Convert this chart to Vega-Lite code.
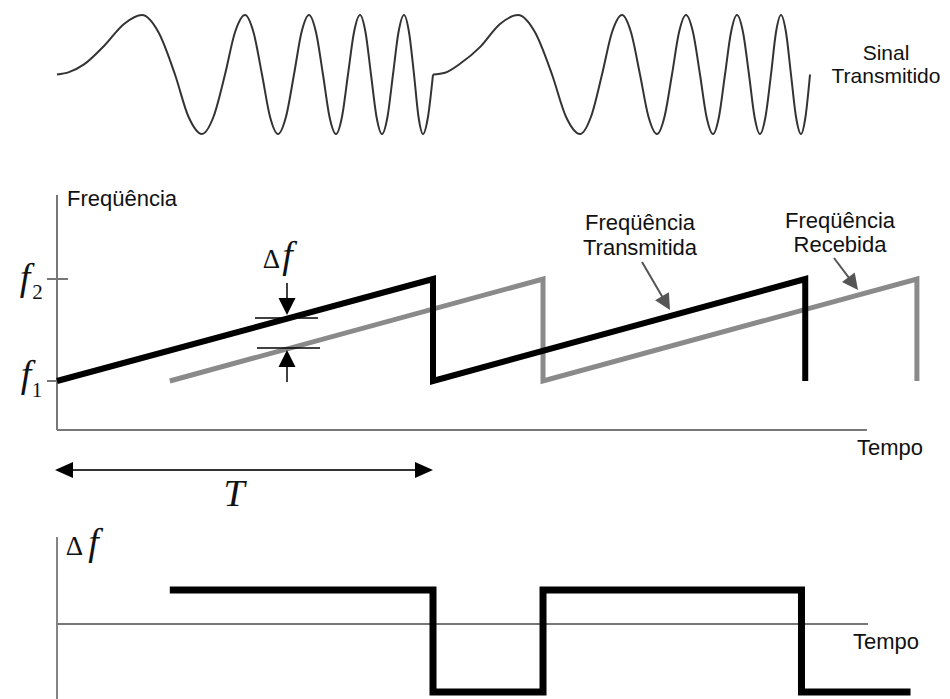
{
  "$schema": "https://vega.github.io/schema/vega-lite/v6.json",
  "background": "white",
  "padding": 0,
  "spacing": 0,
  "config": {"view": {"stroke": null}, "concat": {"spacing": 0}},
  "resolve": {"scale": {"x": "independent", "y": "independent"}},
  "datasets": {
    "chirp": [
      {"seg": 1, "t": 0, "amp": 0},
      {"seg": 1, "t": 0.0319, "amp": 0.04},
      {"seg": 1, "t": 0.0718, "amp": 0.17},
      {"seg": 1, "t": 0.125, "amp": 0.48},
      {"seg": 1, "t": 0.1782, "amp": 0.85},
      {"seg": 1, "t": 0.2261, "amp": 1},
      {"seg": 1, "t": 0.2699, "amp": 0.71},
      {"seg": 1, "t": 0.3138, "amp": 0},
      {"seg": 1, "t": 0.3497, "amp": -0.71},
      {"seg": 1, "t": 0.3856, "amp": -1},
      {"seg": 1, "t": 0.4162, "amp": -0.71},
      {"seg": 1, "t": 0.4468, "amp": 0},
      {"seg": 1, "t": 0.4734, "amp": 0.71},
      {"seg": 1, "t": 0.5, "amp": 1},
      {"seg": 1, "t": 0.5226, "amp": 0.71},
      {"seg": 1, "t": 0.5452, "amp": 0},
      {"seg": 1, "t": 0.5665, "amp": -0.71},
      {"seg": 1, "t": 0.5878, "amp": -1},
      {"seg": 1, "t": 0.609, "amp": -0.71},
      {"seg": 1, "t": 0.6303, "amp": 0},
      {"seg": 1, "t": 0.6503, "amp": 0.71},
      {"seg": 1, "t": 0.6702, "amp": 1},
      {"seg": 1, "t": 0.6888, "amp": 0.71},
      {"seg": 1, "t": 0.7074, "amp": 0},
      {"seg": 1, "t": 0.7247, "amp": -0.71},
      {"seg": 1, "t": 0.742, "amp": -1},
      {"seg": 1, "t": 0.758, "amp": -0.71},
      {"seg": 1, "t": 0.7739, "amp": 0},
      {"seg": 1, "t": 0.7899, "amp": 0.71},
      {"seg": 1, "t": 0.8059, "amp": 1},
      {"seg": 1, "t": 0.8205, "amp": 0.71},
      {"seg": 1, "t": 0.8351, "amp": 0},
      {"seg": 1, "t": 0.8497, "amp": -0.71},
      {"seg": 1, "t": 0.8644, "amp": -1},
      {"seg": 1, "t": 0.879, "amp": -0.71},
      {"seg": 1, "t": 0.8936, "amp": 0},
      {"seg": 1, "t": 0.9082, "amp": 0.71},
      {"seg": 1, "t": 0.9229, "amp": 1},
      {"seg": 1, "t": 0.9362, "amp": 0.71},
      {"seg": 1, "t": 0.9495, "amp": 0},
      {"seg": 1, "t": 0.9614, "amp": -0.71},
      {"seg": 1, "t": 0.9734, "amp": -1},
      {"seg": 1, "t": 0.9867, "amp": -0.71},
      {"seg": 1, "t": 1.0, "amp": 0},
      {"seg": 2, "t": 1.0, "amp": 0},
      {"seg": 2, "t": 1.0319, "amp": 0.03},
      {"seg": 2, "t": 1.0718, "amp": 0.18},
      {"seg": 2, "t": 1.125, "amp": 0.46},
      {"seg": 2, "t": 1.1782, "amp": 0.85},
      {"seg": 2, "t": 1.2261, "amp": 1},
      {"seg": 2, "t": 1.2713, "amp": 0.71},
      {"seg": 2, "t": 1.3165, "amp": 0},
      {"seg": 2, "t": 1.3537, "amp": -0.71},
      {"seg": 2, "t": 1.391, "amp": -1},
      {"seg": 2, "t": 1.4202, "amp": -0.71},
      {"seg": 2, "t": 1.4495, "amp": 0},
      {"seg": 2, "t": 1.4761, "amp": 0.71},
      {"seg": 2, "t": 1.5027, "amp": 1},
      {"seg": 2, "t": 1.5266, "amp": 0.71},
      {"seg": 2, "t": 1.5505, "amp": 0},
      {"seg": 2, "t": 1.5731, "amp": -0.71},
      {"seg": 2, "t": 1.5957, "amp": -1},
      {"seg": 2, "t": 1.6157, "amp": -0.71},
      {"seg": 2, "t": 1.6356, "amp": 0},
      {"seg": 2, "t": 1.6543, "amp": 0.71},
      {"seg": 2, "t": 1.6729, "amp": 1},
      {"seg": 2, "t": 1.6915, "amp": 0.71},
      {"seg": 2, "t": 1.7101, "amp": 0},
      {"seg": 2, "t": 1.7274, "amp": -0.71},
      {"seg": 2, "t": 1.7447, "amp": -1},
      {"seg": 2, "t": 1.7606, "amp": -0.71},
      {"seg": 2, "t": 1.7766, "amp": 0},
      {"seg": 2, "t": 1.7926, "amp": 0.71},
      {"seg": 2, "t": 1.8085, "amp": 1},
      {"seg": 2, "t": 1.8245, "amp": 0.71},
      {"seg": 2, "t": 1.8404, "amp": 0},
      {"seg": 2, "t": 1.8551, "amp": -0.71},
      {"seg": 2, "t": 1.8697, "amp": -1},
      {"seg": 2, "t": 1.8843, "amp": -0.71},
      {"seg": 2, "t": 1.8989, "amp": 0},
      {"seg": 2, "t": 1.9122, "amp": 0.71},
      {"seg": 2, "t": 1.9255, "amp": 1},
      {"seg": 2, "t": 1.9388, "amp": 0.71},
      {"seg": 2, "t": 1.9521, "amp": 0},
      {"seg": 2, "t": 1.9654, "amp": -0.71},
      {"seg": 2, "t": 1.9787, "amp": -1},
      {"seg": 2, "t": 1.9907, "amp": -0.71},
      {"seg": 2, "t": 2.0027, "amp": 0}
    ],
    "tx": [
      {"i": 0, "t": 0, "f": 1},
      {"i": 1, "t": 1, "f": 2},
      {"i": 2, "t": 1, "f": 1},
      {"i": 3, "t": 1.99, "f": 2},
      {"i": 4, "t": 1.99, "f": 1}
    ],
    "rx": [
      {"i": 0, "t": 0.3, "f": 1},
      {"i": 1, "t": 1.2926, "f": 2},
      {"i": 2, "t": 1.2926, "f": 1},
      {"i": 3, "t": 2.287, "f": 2},
      {"i": 4, "t": 2.287, "f": 1}
    ],
    "beat": [
      {"i": 0, "t": 0.3, "df": 1},
      {"i": 1, "t": 1.0, "df": 1},
      {"i": 2, "t": 1.0, "df": -2},
      {"i": 3, "t": 1.2926, "df": -2},
      {"i": 4, "t": 1.2926, "df": 1},
      {"i": 5, "t": 1.98, "df": 1},
      {"i": 6, "t": 1.98, "df": -2},
      {"i": 7, "t": 2.27, "df": -2}
    ]
  },
  "vconcat": [
    {
      "width": 950,
      "height": 150,
      "encoding": {
        "x": {"field": "t", "type": "quantitative", "scale": {"domain": [-0.1516, 2.375], "nice": false, "zero": false}, "axis": null},
        "y": {"field": "amp", "type": "quantitative", "scale": {"domain": [-1.2689, 1.2521], "nice": false, "zero": false}, "axis": null}
      },
      "layer": [
        {
          "data": {"name": "chirp"},
          "mark": {"type": "line", "interpolate": "monotone", "color": "#333333", "strokeWidth": 2},
          "encoding": {"detail": {"field": "seg"}}
        },
        {
          "data": {"values": [
            {"t": 2.2048, "amp": 0.2437, "s": "Sinal"},
            {"t": 2.2048, "amp": -0.1429, "s": "Transmitido"}
          ]},
          "mark": {"type": "text", "font": "Liberation Sans", "fontSize": 21, "align": "center", "baseline": "alphabetic", "color": "#111111"},
          "encoding": {"text": {"field": "s"}}
        }
      ]
    },
    {
      "width": 950,
      "height": 365,
      "encoding": {
        "x": {"field": "t", "type": "quantitative", "scale": {"domain": [-0.1516, 2.375], "nice": false, "zero": false}, "axis": null},
        "y": {"field": "f", "type": "quantitative", "scale": {"domain": [-0.3137, 3.2647], "nice": false, "zero": false}, "axis": null}
      },
      "layer": [
        {
          "data": {"values": [
            {"t": 0, "t_end": 0, "f": 0.5196, "f_end": 2.8235},
            {"t": 0, "t_end": 2.154, "f": 0.5196, "f_end": 0.5196},
            {"t": -0.0266, "t_end": 0.0293, "f": 2, "f_end": 2},
            {"t": -0.0266, "t_end": 0, "f": 1, "f_end": 1}
          ]},
          "mark": {"type": "rule", "color": "#777777", "strokeWidth": 2},
          "encoding": {"x2": {"field": "t_end"}, "y2": {"field": "f_end"}}
        },
        {
          "data": {"name": "rx"},
          "mark": {"type": "line", "color": "#8a8a8a", "strokeWidth": 5, "strokeJoin": "miter"},
          "encoding": {"order": {"field": "i"}}
        },
        {
          "data": {"name": "tx"},
          "mark": {"type": "line", "color": "#000000", "strokeWidth": 6, "strokeJoin": "miter"},
          "encoding": {"order": {"field": "i"}}
        },
        {
          "data": {"values": [
            {"t": 0.5266, "t_end": 0.6941, "f": 1.6176, "f_end": 1.6176},
            {"t": 0.5319, "t_end": 0.6995, "f": 1.3235, "f_end": 1.3235},
            {"t": 0.6117, "t_end": 0.6117, "f": 1.9608, "f_end": 1.7},
            {"t": 0.6117, "t_end": 0.6117, "f": 0.99, "f_end": 1.25}
          ]},
          "mark": {"type": "rule", "color": "#000000", "strokeWidth": 1.5},
          "encoding": {"x2": {"field": "t_end"}, "y2": {"field": "f_end"}}
        },
        {
          "data": {"values": [{"t": 0.6117, "f": 1.647}]},
          "mark": {"type": "point", "shape": "M0,0L-0.5,-1L0.5,-1Z", "size": 1156, "filled": true, "opacity": 1, "color": "#000000"}
        },
        {
          "data": {"values": [{"t": 0.6117, "f": 1.304}]},
          "mark": {"type": "point", "shape": "M0,0L-0.5,1L0.5,1Z", "size": 1156, "filled": true, "opacity": 1, "color": "#000000"}
        },
        {
          "data": {"values": [
            {"t": 1.5559, "t_end": 1.625, "f": 2.1667, "f_end": 1.73},
            {"t": 2.0665, "t_end": 2.125, "f": 2.2059, "f_end": 1.92}
          ]},
          "mark": {"type": "rule", "color": "#555555", "strokeWidth": 2},
          "encoding": {"x2": {"field": "t_end"}, "y2": {"field": "f_end"}}
        },
        {
          "data": {"values": [{"t": 1.6303, "f": 1.696}]},
          "mark": {"type": "point", "shape": "M0,0L-0.5,-1L0.5,-1Z", "size": 1024, "angle": 330, "filled": true, "opacity": 1, "color": "#555555"}
        },
        {
          "data": {"values": [{"t": 2.1303, "f": 1.892}]},
          "mark": {"type": "point", "shape": "M0,0L-0.5,-1L0.5,-1Z", "size": 1024, "angle": 323, "filled": true, "opacity": 1, "color": "#555555"}
        },
        {
          "data": {"values": [{"t": 0.02, "t_end": 0.98, "f": 0.1275, "f_end": 0.1275}]},
          "mark": {"type": "rule", "color": "#333333", "strokeWidth": 2},
          "encoding": {"x2": {"field": "t_end"}, "y2": {"field": "f_end"}}
        },
        {
          "data": {"values": [{"t": -0.0053, "f": 0.1275}]},
          "mark": {"type": "point", "shape": "M0,0L1,-0.45L1,0.45Z", "size": 1296, "filled": true, "opacity": 1, "color": "#000000"}
        },
        {
          "data": {"values": [{"t": 1.0, "f": 0.1275}]},
          "mark": {"type": "point", "shape": "M0,0L-1,-0.45L-1,0.45Z", "size": 1296, "filled": true, "opacity": 1, "color": "#000000"}
        },
        {
          "data": {"values": [
            {"t": 0.0266, "f": 2.7157, "s": "Freqüência"},
            {"t": 2.1277, "f": 0.2745, "s": "Tempo"}
          ]},
          "mark": {"type": "text", "font": "Liberation Sans", "fontSize": 22, "align": "left", "baseline": "alphabetic", "color": "#111111"},
          "encoding": {"text": {"field": "s"}}
        },
        {
          "data": {"values": [
            {"t": 1.5505, "f": 2.4804, "s": "Freqüência"},
            {"t": 1.5505, "f": 2.2353, "s": "Transmitida"},
            {"t": 2.0824, "f": 2.5, "s": "Freqüência"},
            {"t": 2.0824, "f": 2.2647, "s": "Recebida"}
          ]},
          "mark": {"type": "text", "font": "Liberation Sans", "fontSize": 22, "align": "center", "baseline": "alphabetic", "color": "#111111"},
          "encoding": {"text": {"field": "s"}}
        },
        {
          "data": {"values": [
            {"t": -0.0851, "f": 1.892, "s": "f"},
            {"t": -0.0824, "f": 0.941, "s": "f"},
            {"t": 0.613, "f": 2.108, "s": "f"},
            {"t": 0.4707, "f": -0.2255, "s": "T"}
          ]},
          "mark": {"type": "text", "font": "Liberation Serif", "fontStyle": "italic", "fontSize": 38, "align": "center", "baseline": "alphabetic", "color": "#111111"},
          "encoding": {"text": {"field": "s"}}
        },
        {
          "data": {"values": [{"t": 0.5705, "f": 2.108, "s": "Δ"}]},
          "mark": {"type": "text", "font": "Liberation Serif", "fontSize": 27, "align": "center", "baseline": "alphabetic", "color": "#111111"},
          "encoding": {"text": {"field": "s"}}
        },
        {
          "data": {"values": [
            {"t": -0.0519, "f": 1.804, "s": "2"},
            {"t": -0.0532, "f": 0.843, "s": "1"}
          ]},
          "mark": {"type": "text", "font": "Liberation Serif", "fontSize": 21, "align": "center", "baseline": "alphabetic", "color": "#111111"},
          "encoding": {"text": {"field": "s"}}
        }
      ]
    },
    {
      "width": 950,
      "height": 184,
      "encoding": {
        "x": {"field": "t", "type": "quantitative", "scale": {"domain": [-0.1516, 2.375], "nice": false, "zero": false}, "axis": null},
        "y": {"field": "df", "type": "quantitative", "scale": {"domain": [-2.2059, 3.2059], "nice": false, "zero": false}, "axis": null}
      },
      "layer": [
        {
          "data": {"values": [
            {"t": 0, "t_end": 0, "df": -2.2059, "df_end": 2.5588},
            {"t": 0, "t_end": 2.157, "df": 0, "df_end": 0}
          ]},
          "mark": {"type": "rule", "color": "#777777", "strokeWidth": 1.8},
          "encoding": {"x2": {"field": "t_end"}, "y2": {"field": "df_end"}}
        },
        {
          "data": {"name": "beat"},
          "mark": {"type": "line", "color": "#000000", "strokeWidth": 7, "strokeJoin": "miter"},
          "encoding": {"order": {"field": "i"}}
        },
        {
          "data": {"values": [{"t": 0.0465, "df": 2.0294, "s": "Δ"}]},
          "mark": {"type": "text", "font": "Liberation Serif", "fontSize": 27, "align": "center", "baseline": "alphabetic", "color": "#111111"},
          "encoding": {"text": {"field": "s"}}
        },
        {
          "data": {"values": [{"t": 0.0971, "df": 2.0294, "s": "f"}]},
          "mark": {"type": "text", "font": "Liberation Serif", "fontStyle": "italic", "fontSize": 38, "align": "center", "baseline": "alphabetic", "color": "#111111"},
          "encoding": {"text": {"field": "s"}}
        },
        {
          "data": {"values": [{"t": 2.117, "df": -0.7353, "s": "Tempo"}]},
          "mark": {"type": "text", "font": "Liberation Sans", "fontSize": 22, "align": "left", "baseline": "alphabetic", "color": "#111111"},
          "encoding": {"text": {"field": "s"}}
        }
      ]
    }
  ]
}
